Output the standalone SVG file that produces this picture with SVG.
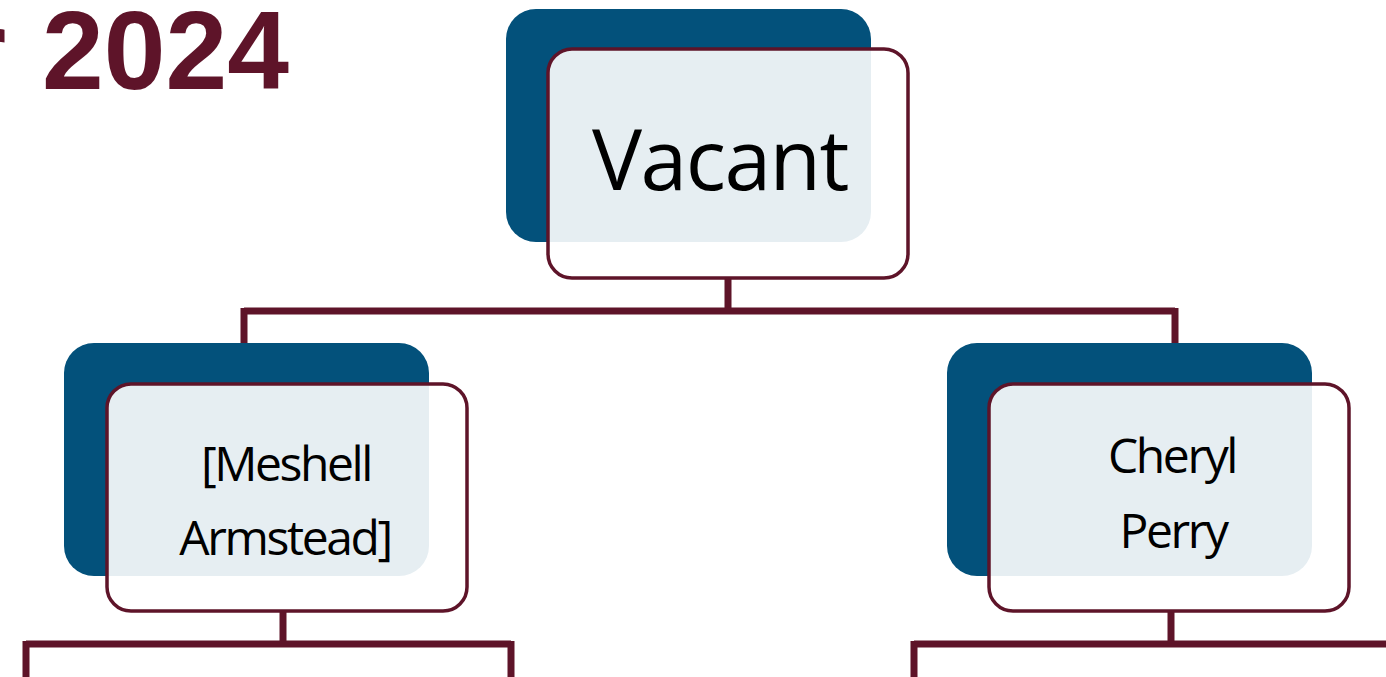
<svg xmlns="http://www.w3.org/2000/svg" width="1386" height="677" viewBox="0 0 1386 677">
<style>
.back{fill:#03517b}
.front{fill:#ffffff;fill-opacity:0.9;stroke:#5e1429;stroke-width:3.5}
.lbl{font-family:"Open Sans","DejaVu Sans",sans-serif;fill:#000;text-anchor:middle}
.sm{font-size:48px;letter-spacing:-2.4px}
.conn{stroke:#5e1429;stroke-width:7;fill:none;stroke-linecap:butt}
.title{font-family:"Liberation Sans",Arial,sans-serif;font-weight:bold;fill:#5e1429}
</style>
<rect width="1386" height="677" fill="#ffffff"/>
<text class="title" x="289" y="89" font-size="111" text-anchor="end">r<tspan dx="5"> 2024</tspan></text>
<g id="connectors">
<path class="conn" d="M728,278 V311 M244,311 H1175 M244,308 V343 M1175,308 V343"/>
<path class="conn" d="M283,611 V644 M26,644 H511 M26,641 V677 M511,641 V677"/>
<path class="conn" d="M1171,611 V644 M914,644 H1386 M914,641 V677"/>
</g>
<g id="node-vacant">
<rect class="back" x="506" y="9" width="365" height="233" rx="30"/>
<rect class="front" x="548" y="49" width="360" height="229" rx="24"/>
<text class="lbl" x="720" y="190" font-size="84" letter-spacing="-1.5">Vacant</text>
</g>
<g id="node-meshell">
<rect class="back" x="64" y="343" width="365" height="233" rx="30"/>
<rect class="front" x="107" y="384" width="360" height="227" rx="24"/>
<text class="lbl sm" x="286" y="481">[Meshell</text>
<text class="lbl sm" x="285" y="555">Armstead]</text>
</g>
<g id="node-cheryl">
<rect class="back" x="947" y="343" width="365" height="233" rx="30"/>
<rect class="front" x="989" y="384" width="360" height="227" rx="24"/>
<text class="lbl sm" x="1172" y="473">Cheryl</text>
<text class="lbl sm" x="1173" y="548">Perry</text>
</g>
</svg>
